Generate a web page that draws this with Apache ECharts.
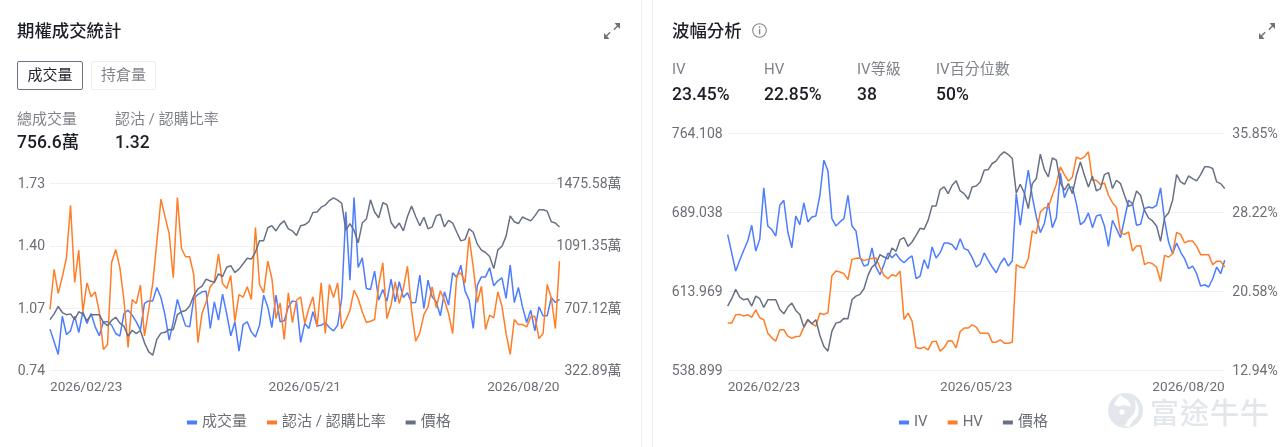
<!DOCTYPE html>
<html>
<head>
<meta charset="utf-8">
<script src="https://cdn.jsdelivr.net/npm/echarts@6/dist/echarts.min.js"></script>
<style>
  html, body { margin: 0; padding: 0; background: #fff; }
  body { width: 1288px; height: 447px; position: relative; overflow: hidden;
         font-family: Roboto, "Noto Sans CJK TC", sans-serif; }
  .t { position: absolute; white-space: nowrap; line-height: 20px; }
  .title { font-size: 17.4px; font-weight: 500; color: #1c1f26; }
  .lab { font-size: 15px; color: #80838a; }
  .val { font-size: 17.5px; font-weight: 500; color: #1c1f26; }
  .tab { position: absolute; box-sizing: border-box; height: 29px; width: 66px; top: 61px;
         text-align: center; line-height: 27px; font-size: 15px; border-radius: 2px; }
  .sep { position: absolute; top: 0; width: 1px; height: 447px; background: #eeeeee; }
  .chart { position: absolute; top: 0; height: 447px; }
  svg { position: absolute; }
</style>
</head>
<body>
<div class="sep" style="left:641px"></div>
<div class="sep" style="left:652px"></div>

<div id="volChart" class="chart" style="left:0;width:641px"></div>
<div id="ivChart" class="chart" style="left:653px;width:635px"></div>

<div class="t title" style="left:17px;top:21px">期權成交統計</div>
<div class="tab" style="left:17px;border:1px solid #6b7280;color:#1c1f26">成交量</div>
<div class="tab" style="left:91px;width:65px;border:1px solid #eeeeee;color:#80838a">持倉量</div>
<div class="t lab" style="left:17px;top:109px">總成交量</div>
<div class="t lab" style="left:115px;top:109px">認沽 / 認購比率</div>
<div class="t val" style="left:17px;top:132px">756.6萬</div>
<div class="t val" style="left:115px;top:132px">1.32</div>

<div class="t title" style="left:672px;top:21px">波幅分析</div>
<svg style="left:752px;top:23px" width="15" height="15" viewBox="0 0 15 15">
  <circle cx="7.5" cy="7.5" r="6.8" fill="none" stroke="#85888e" stroke-width="1.1"/>
  <rect x="6.9" y="3.4" width="1.4" height="1.5" fill="#85888e"/>
  <rect x="6.9" y="6" width="1.4" height="5.4" fill="#85888e"/>
</svg>
<div class="t lab" style="left:672px;top:59px">IV</div>
<div class="t lab" style="left:764px;top:59px">HV</div>
<div class="t lab" style="left:857px;top:59px">IV等級</div>
<div class="t lab" style="left:936px;top:59px">IV百分位數</div>
<div class="t val" style="left:672px;top:84px">23.45%</div>
<div class="t val" style="left:764px;top:84px">22.85%</div>
<div class="t val" style="left:857px;top:84px">38</div>
<div class="t val" style="left:936px;top:84px">50%</div>

<svg style="left:604px;top:23px" width="16" height="16" viewBox="0 0 16 16" fill="#6f7278">
  <path d="M16 0v6l-2.2-2.2-3.4 3.4-1-1 3.4-3.4L10.6 0z"/><path d="M0 16v-6l2.2 2.2 3.4-3.4 1 1-3.4 3.4L5.4 16z"/>
</svg>
<svg style="left:1259px;top:23px" width="16" height="16" viewBox="0 0 16 16" fill="#6f7278">
  <path d="M16 0v6l-2.2-2.2-3.4 3.4-1-1 3.4-3.4L10.6 0z"/><path d="M0 16v-6l2.2 2.2 3.4-3.4 1 1-3.4 3.4L5.4 16z"/>
</svg>

<!-- watermark -->
<svg style="left:1107px;top:392px" width="37" height="37" viewBox="0 0 37 37">
  <circle cx="18.5" cy="18.5" r="17.5" fill="#e3e7eb"/>
  <path d="M13 3c4 3 10 5 11 11-3 1-7-2-10 0-3 1-5 0-7-2z" fill="#fff"/>
  <path d="M28 7c4 7 5 14 1 19-3 2-5 5-7 9l-4-1c3-6 4-8 8-11 3-4 3-9 2-16z" fill="#fff"/>
  <circle cx="15" cy="20" r="2.6" fill="#fff"/>
</svg>
<div class="t" style="left:1150px;top:395px;font-size:29px;font-weight:500;line-height:32px;color:#e3e7eb;letter-spacing:1px;font-family:'Noto Sans CJK TC'">富途牛牛</div>

<script>
    var dateTicks = ['2026/02/23', '2026/05/21', '2026/08/20'];
    var ivDateTicks = ['2026/02/23', '2026/05/23', '2026/08/20'];
    var tickIndex = [0, 62, 124];

    var ratioTicks = ['0.74', '1.07', '1.40', '1.73'];
    var volumeTicks = ['322.89萬', '707.12萬', '1091.35萬', '1475.58萬'];
    var priceTicks = ['538.899', '613.969', '689.038', '764.108'];
    var hvTicks = ['12.94%', '20.58%', '28.22%', '35.85%'];

    // 成交量 (萬)
    var volumeValues = [
        578, 500, 422, 658, 545, 567, 658, 557, 685, 613, 674, 592, 537, 623, 623, 602, 551, 535, 674, 695,
        664, 623, 572, 736, 752, 752, 835, 773, 664, 510, 623, 761, 674, 598, 592, 767, 791, 808, 812, 582,
        746, 633, 793, 674, 537, 623, 442, 606, 623, 561, 530, 602, 787, 715, 588, 787, 623, 629, 715, 752,
        746, 496, 613, 582, 685, 598, 602, 617, 588, 567, 602, 767, 1301, 880, 1389, 958, 1017, 828, 822, 935,
        757, 822, 750, 886, 746, 870, 773, 802, 740, 742, 911, 705, 880, 777, 746, 660, 808, 726, 925, 896,
        972, 814, 757, 582, 849, 900, 900, 956, 845, 876, 894, 767, 972, 742, 835, 715, 619, 695, 567, 715,
        660, 660, 773, 742, 761
    ];

    // 認沽 / 認購比率
    var ratioValues = [
        1.063, 1.276, 1.148, 1.236, 1.338, 1.615, 1.206, 1.377, 1.05, 1.204, 1.13, 1.156, 1.05, 0.851, 0.878, 1.312, 1.381, 1.285, 1.112, 0.862,
        1.116, 1.095, 1.192, 0.923, 1.059, 1.2, 1.421, 1.647, 1.553, 1.465, 1.231, 1.656, 1.386, 1.342, 1.342, 1.245, 0.888, 1.042, 1.103, 1.183,
        1.209, 1.356, 1.2, 1.174, 1.243, 1.0, 1.142, 1.128, 1.183, 1.116, 1.497, 1.195, 1.151, 1.319, 1.227, 1.015, 1.098, 0.904, 1.151, 0.994,
        1.112, 1.13, 0.989, 1.068, 1.13, 0.971, 1.204, 0.936, 1.195, 1.126, 1.204, 0.962, 1.006, 1.059, 1.165, 1.121, 1.05, 0.994, 1.001, 1.01,
        1.192, 1.31, 1.015, 1.086, 1.209, 1.095, 1.174, 1.292, 1.059, 0.895, 0.939, 1.036, 1.077, 1.183, 1.073, 1.162, 1.112, 1.042, 0.936, 1.245,
        1.257, 1.204, 1.448, 1.289, 1.1, 1.186, 0.957, 1.033, 1.019, 1.156, 1.08, 0.936, 0.825, 1.01, 0.983, 0.983, 0.971, 1.024, 1.027, 0.909,
        0.936, 1.195, 1.125, 0.962, 1.319
    ];

    // 價格, same series in both panels
    var priceValues = [
        600.1, 607.1, 616, 608.7, 606.1, 607.1, 600.1, 609.6, 607.1, 598.8, 606.1, 606.1, 606.1, 596.9, 592.8, 599.2, 603, 596, 592.2, 580.1,
        587.4, 583.3, 587.1, 572.2, 561.7, 557.3, 576.3, 583.9, 584.9, 588.4, 588.1, 606.1, 609.6, 611.2, 616.6, 629.3, 637.2, 640.4, 649, 646.7,
        645.1, 655.3, 652.1, 663.2, 665.1, 656.9, 661, 667.4, 674, 673.1, 681.6, 695.3, 695.3, 710.8, 713.3, 707, 714.9, 719.1, 709.5, 707,
        701.6, 713.3, 714.3, 718.1, 729.2, 729.8, 735.6, 738.1, 743.5, 746.7, 744.1, 740.3, 707.6, 715.9, 707.6, 692.7, 716.5, 721.3, 744.4, 729.8,
        722.9, 740.9, 738.7, 717.2, 710.2, 716.5, 707, 724.4, 737.1, 724.4, 713.3, 723.5, 709.5, 711.8, 725.1, 727, 711.8, 719.7, 716.5, 705.4,
        695, 696.5, 709.5, 705.4, 691.1, 683.8, 681, 676.2, 661.6, 684.2, 688.6, 700.7, 725.1, 718.1, 715.9, 723.8, 721.3, 719.1, 725.1, 732.4,
        732.4, 730.8, 718.1, 716.5, 711.8
    ];

    var ivValues = [
        26.07, 24.3, 22.55, 23.59, 24.56, 25.46, 26.98, 24.49, 25.62, 30.59, 26.91, 26.56, 25.94, 28.91, 29.4, 26.33, 24.81, 27.88, 27.04, 29.14,
        27.3, 27.78, 27.88, 29.88, 33.27, 32.24, 27.62, 26.91, 27.3, 27.62, 29.88, 26.91, 26.43, 23.91, 23.04, 23.17, 24.78, 22.94, 22.2, 23.2,
        24.3, 23.85, 24.23, 23.68, 23.36, 23.75, 24.01, 21.81, 22.07, 23.65, 22.78, 24.88, 23.81, 24.33, 25.27, 25.27, 25.1, 24.62, 25.68, 24.72,
        24.56, 23.85, 22.94, 23.26, 24.3, 23.59, 22.94, 22.39, 23.26, 23.81, 23.04, 23.52, 30.04, 26.98, 29.88, 32.3, 29.72, 27.78, 26.27, 27.14,
        29.14, 26.75, 27.72, 32.04, 29.65, 30.59, 30.69, 29.07, 27.04, 27.36, 28.17, 26.75, 27.88, 28.01, 26.91, 24.94, 27.46, 26.65, 25.78, 27.56,
        29.4, 29.07, 26.98, 27.07, 28.59, 28.75, 28.65, 28.91, 30.59, 27.46, 25.36, 24.23, 25.27, 24.39, 23.75, 22.78, 23.04, 22.3, 21.1, 21.23,
        21.01, 21.81, 22.94, 22.3, 23.59
    ];

    var hvValues = [
        17.52, 17.52, 18.33, 18.36, 18.2, 18.33, 18.07, 18.81, 18.04, 17.84, 16.55, 16.1, 15.78, 16.88, 16.88, 16.26, 16.04, 16.23, 16.26, 17.13,
        17.78, 17.46, 17.23, 18.49, 18.36, 18.52, 22.1, 22.55, 22.46, 22.3, 21.72, 23.68, 23.78, 23.81, 23.56, 23.68, 23.78, 23.81, 22.88, 22.14,
        21.81, 22.2, 22.07, 22.55, 17.88, 18.49, 17.71, 15.16, 15.07, 15.2, 14.94, 15.71, 15.78, 14.81, 15.16, 15.81, 15.78, 15.13, 16.71, 17.04,
        17.04, 17.36, 17.13, 16.55, 16.55, 16.55, 15.68, 15.68, 15.91, 15.58, 15.58, 15.68, 23.17, 22.94, 22.85, 23.75, 26.43, 26.17, 28.27, 28.65,
        28.75, 29.88, 30.94, 32.62, 31.88, 31.24, 31.65, 33.59, 33.37, 33.59, 34.08, 31.33, 31.33, 30.91, 31.07, 29.88, 29.17, 28.69, 26.27, 26.1,
        26.33, 24.49, 24.97, 25.0, 23.17, 23.39, 23.26, 22.94, 21.55, 24.07, 23.91, 24.23, 26.3, 26.1, 25.27, 25.46, 25.46, 24.94, 24.14, 24.14,
        24.14, 23.17, 23.49, 23.49, 22.94
    ];

    var blue = '#4d7cfe', orange = '#ff7d27', gray = '#687084';
    var textColor = '#6b6e75';

    function xAxisFor(labels, count) {
        var cats = [];
        for (var i = 0; i < count; i++) {
            var k = tickIndex.indexOf(i);
            cats.push(k >= 0 ? labels[k] : String(i));
        }
        return {
            type: 'category',
            boundaryGap: false,
            data: cats,
            axisLine: {show: false},
            axisTick: {show: false},
            axisLabel: {
                color: textColor,
                fontSize: 13.6,
                margin: 10,
                alignMinLabel: 'left',
                alignMaxLabel: 'right',
                interval: function (index) {
                    return tickIndex.indexOf(index) >= 0;
                }
            }
        };
    }

    function yAxisFor(position, lo, hi, labels, margin, alignRight, hidden) {
        return {
            type: 'value',
            position: position,
            min: lo,
            max: hi,
            interval: (hi - lo) / 3,
            show: !hidden,
            axisLine: {show: false},
            axisTick: {show: false},
            splitLine: {show: position === 'left' && !hidden, lineStyle: {color: '#f0f0f0', width: 1}},
            axisLabel: {
                color: textColor,
                fontSize: 14,
                margin: margin,
                verticalAlign: 'top',
                padding: [-6, 0, 0, 0],
                align: alignRight ? 'right' : undefined,
                formatter: function (value, index) {
                    return labels[index];
                }
            }
        };
    }

    function lineOf(name, data, color, axisIndex) {
        return {
            name: name,
            type: 'line',
            data: data,
            yAxisIndex: axisIndex,
            showSymbol: false,
            smooth: false,
            lineStyle: {color: color, width: 1.5},
            itemStyle: {color: color}
        };
    }

    function legendOf(leftPos) {
        return {
            bottom: 17,
            left: leftPos,
            padding: 0,
            icon: 'rect',
            itemWidth: 10,
            itemHeight: 4,
            itemGap: 20,
            textStyle: {color: textColor, fontSize: 15, padding: [0, 0, 0, 0]}
        };
    }

    var volChart = echarts.init(document.getElementById('volChart'));
    volChart.setOption({
        animation: false,
        textStyle: {fontFamily: 'Roboto, "Noto Sans CJK TC", sans-serif'},
        grid: {left: 50, right: 81.5, top: 183.5, bottom: 76.5, containLabel: false},
        legend: legendOf(187),
        xAxis: xAxisFor(dateTicks, priceValues.length),
        yAxis: [
            yAxisFor('left', 0.74, 1.73, ratioTicks, 5, false, false),
            yAxisFor('right', 322.89, 1475.58, volumeTicks, 62, true, false),
            yAxisFor('right', 538.899, 764.108, priceTicks, 5, false, true)
        ],
        series: [
            lineOf('成交量', volumeValues, blue, 1),
            lineOf('認沽 / 認購比率', ratioValues, orange, 0),
            lineOf('價格', priceValues, gray, 2)
        ]
    });

    var ivChart = echarts.init(document.getElementById('ivChart'));
    ivChart.setOption({
        animation: false,
        textStyle: {fontFamily: 'Roboto, "Noto Sans CJK TC", sans-serif'},
        grid: {left: 74.7, right: 63.3, top: 133.5, bottom: 76.5, containLabel: false},
        legend: legendOf(246),
        xAxis: xAxisFor(ivDateTicks, priceValues.length),
        yAxis: [
            yAxisFor('left', 538.899, 764.108, priceTicks, 5, false, false),
            yAxisFor('right', 12.94, 35.85, hvTicks, 53, true, false)
        ],
        series: [
            lineOf('IV', ivValues, blue, 1),
            lineOf('HV', hvValues, orange, 1),
            lineOf('價格', priceValues, gray, 0)
        ]
    });
</script>
</body>
</html>
